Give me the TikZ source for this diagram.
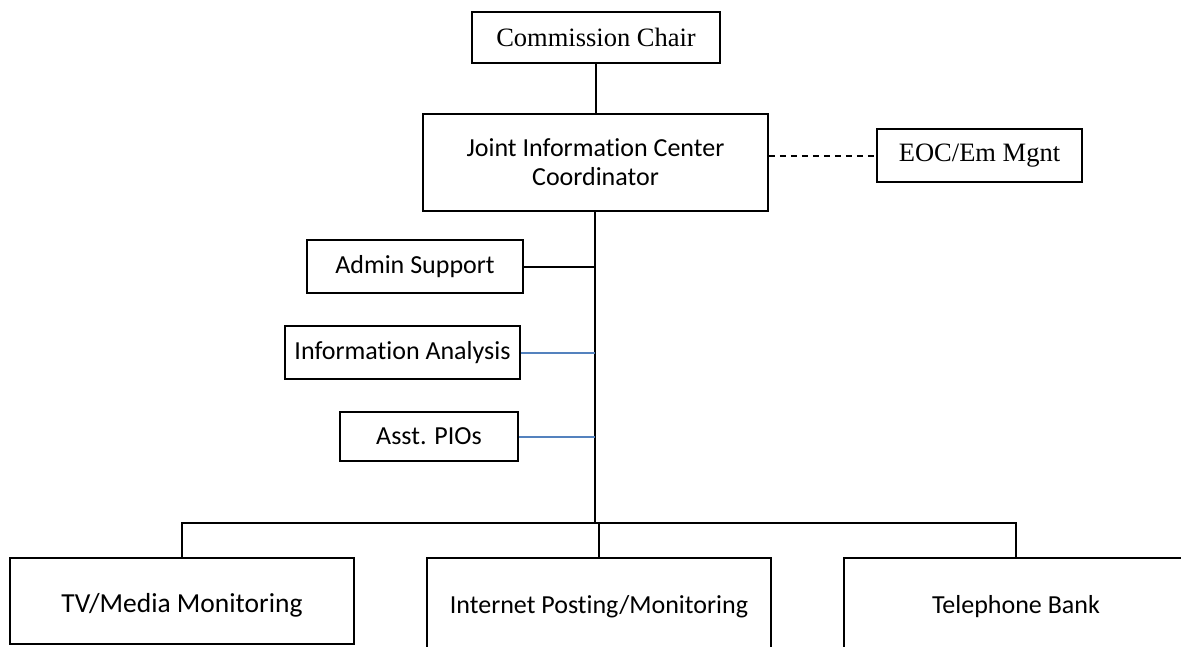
\documentclass[tikz,border=0pt]{standalone}
\usepackage{fontspec}
\setmainfont[Ligatures=NoCommon]{Carlito}
\newfontfamily\serifface{Liberation Serif}
\definecolor{linkblue}{RGB}{84,130,190}
\begin{document}
\begin{tikzpicture}[x=1pt,y=-1pt,
  box/.style={draw=black,line width=1.7pt,fill=white,inner sep=0pt,align=center,
    font=\fontsize{26}{29}\selectfont},
  serifbox/.style={box,font=\serifface\fontsize{26.5}{29}\selectfont},
  link/.style={line width=2pt},
  bluelink/.style={draw=linkblue,line width=2pt},
  dashlink/.style={line width=2pt,dashed,dash pattern=on 6pt off 5pt}]
\useasboundingbox (0,0) rectangle (1181,646);
\node[serifbox,minimum width=248pt,minimum height=51pt] (chair) at (596,37.5) {Commission Chair};
\node[box,minimum width=345pt,minimum height=97pt] (joint) at (595.5,162.5) {Joint Information Center\\Coordinator};
\node[serifbox,minimum width=205pt,minimum height=53pt] (eoc) at (979.5,155.5) {EOC/Em Mgnt};
\node[box,minimum width=216pt,minimum height=53pt] (admin) at (415,266.5) {Admin Support};
\node[box,minimum width=235pt,minimum height=53pt] (info) at (402.5,352.5) {Information Analysis};
\node[box,minimum width=178pt,minimum height=49pt] (asst) at (429,436.5) {Asst. PIOs};
\node[box,minimum width=344pt,minimum height=86pt,font=\fontsize{27.5}{30}\selectfont,
  text height=22pt,text depth=0pt] (tv) at (182,601) {TV/Media Monitoring};
\node[box,minimum width=344pt,minimum height=96pt,text height=14pt,text depth=0pt] (inet) at (599,606) {Internet Posting/Monitoring};
\node[box,minimum width=344pt,minimum height=96pt,text height=14pt,text depth=0pt] (tel) at (1016,606) {Telephone Bank};
\coordinate (bus) at (595,523);
\draw[link] (chair.south) -- (chair.south |- joint.north);
\draw[line width=2.4pt] (joint.south -| bus) -- (bus);
\draw[dashlink] (joint.east |- eoc.west) -- (eoc.west);
\draw[link] (admin.east) -- (admin.east -| bus);
\draw[bluelink] (info.east) -- (info.east -| bus);
\draw[bluelink] (asst.east) -- (asst.east -| bus);
\draw[line width=1.7pt] (tv.north) -- (tv.north |- bus) -- (tel.north |- bus) -- (tel.north);
\draw[line width=1.7pt] (inet.north) -- (inet.north |- bus);
\end{tikzpicture}
\end{document}
